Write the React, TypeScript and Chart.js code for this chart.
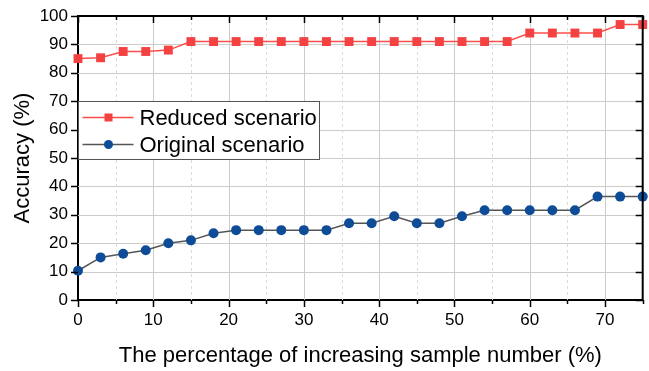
import React, { useEffect, useRef } from 'react';
import { Chart, registerables } from 'chart.js';

Chart.register(...registerables);

const xPercent = [0, 3, 6, 9, 12, 15, 18, 21, 24, 27, 30, 33, 36, 39, 42, 45, 48, 51, 54, 57, 60, 63, 66, 69, 72, 75];
const reducedScenario = [85, 85.3, 87.5, 87.5, 88, 91, 91, 91, 91, 91, 91, 91, 91, 91, 91, 91, 91, 91, 91, 91, 94, 94, 94, 94, 97, 97];
const originalScenario = [10.3, 15, 16.3, 17.5, 20, 21, 23.5, 24.6, 24.6, 24.6, 24.6, 24.6, 27, 27, 29.5, 27, 27, 29.5, 31.6, 31.6, 31.6, 31.6, 31.6, 36.4, 36.4, 36.4];
const seriesNames = ['Reduced scenario', 'Original scenario'];
const xTitle = 'The percentage of increasing sample number (%)';
const yTitle = 'Accuracy (%)';
const xMajorTicks = [0, 10, 20, 30, 40, 50, 60, 70];
const xMinorTicks = [5, 15, 25, 35, 45, 55, 65, 75];
const yMajorTicks = [0, 10, 20, 30, 40, 50, 60, 70, 80, 90, 100];

const FONT = '"Liberation Sans", Arial, sans-serif';
const RED_LINE = '#FF4D4D';
const RED_FILL = '#F44242';
const BLUE_FILL = '#0F4C98';
const GRAY_LINE = '#555555';

function line(ctx: CanvasRenderingContext2D, x1: number, y1: number, x2: number, y2: number) {
  ctx.beginPath();
  ctx.moveTo(x1, y1);
  ctx.lineTo(x2, y2);
  ctx.stroke();
}

function zeroPadding(scale: any) {
  scale.paddingLeft = 0;
  scale.paddingRight = 0;
  scale.paddingTop = 0;
  scale.paddingBottom = 0;
}

const framePlugin = {
  id: 'frameAndLegend',
  beforeDatasetsDraw(chart: any) {
    const { ctx, chartArea: a, scales } = chart;
    const x = scales.x;
    const y = scales.y;
    ctx.save();
    ctx.lineWidth = 1;
    ctx.strokeStyle = '#cccccc';
    yMajorTicks.forEach((v) => {
      if (v === 0 || v === 100) return;
      const py = Math.round(y.getPixelForValue(v)) + 0.5;
      line(ctx, a.left, py, a.right, py);
    });
    xMajorTicks.forEach((v) => {
      if (v === 0) return;
      const px = Math.round(x.getPixelForValue(v)) + 0.5;
      line(ctx, px, a.top, px, a.bottom);
    });
    ctx.setLineDash([3, 3]);
    ctx.strokeStyle = '#dcdcdc';
    xMinorTicks.forEach((v) => {
      if (v >= 75) return;
      const px = Math.round(x.getPixelForValue(v)) + 0.5;
      line(ctx, px, a.top, px, a.bottom);
    });
    ctx.restore();
  },
  afterDatasetsDraw(chart: any) {
    const { ctx, chartArea: a, scales } = chart;
    const x = scales.x;
    const y = scales.y;
    ctx.save();
    ctx.strokeStyle = '#000';
    ctx.lineWidth = 2;
    line(ctx, a.left - 1, a.top, a.right + 1, a.top);
    line(ctx, a.right, a.top, a.right, a.bottom + 1);
    ctx.lineWidth = 1.5;
    yMajorTicks.forEach((v) => {
      const py = Math.round(y.getPixelForValue(v)) + 0.5;
      line(ctx, a.left - 7, py, a.left, py);
      line(ctx, a.right, py, a.right - 7, py);
    });
    xMajorTicks.forEach((v) => {
      const px = Math.round(x.getPixelForValue(v)) + 0.5;
      line(ctx, px, a.bottom, px, a.bottom + 7);
      line(ctx, px, a.top, px, a.top + 7);
    });
    xMinorTicks.forEach((v) => {
      const px = Math.round(x.getPixelForValue(v)) + 0.5;
      line(ctx, px, a.bottom, px, a.bottom + 4);
      line(ctx, px, a.top, px, a.top + 4);
    });
    ctx.restore();

    // legend
    const bx = a.left + 0.5;
    const by = 101.5;
    const bw = 241;
    const bh = 58;
    ctx.save();
    ctx.fillStyle = '#fff';
    ctx.fillRect(bx, by, bw, bh);
    ctx.strokeStyle = '#555';
    ctx.lineWidth = 1;
    ctx.strokeRect(bx, by, bw, bh);
    const rows = [
      { name: seriesNames[0], lineColor: RED_LINE, fill: RED_FILL, style: 'rect', cy: by + 16 },
      { name: seriesNames[1], lineColor: GRAY_LINE, fill: BLUE_FILL, style: 'circle', cy: by + 43 },
    ];
    rows.forEach((r) => {
      ctx.strokeStyle = r.lineColor;
      ctx.lineWidth = 1.5;
      line(ctx, bx + 4, r.cy, bx + 55, r.cy);
      ctx.fillStyle = r.fill;
      const mx = bx + 30;
      if (r.style === 'rect') {
        ctx.fillRect(mx - 4, r.cy - 4, 8, 8);
      } else {
        ctx.beginPath();
        ctx.arc(mx, r.cy, 4.5, 0, Math.PI * 2);
        ctx.fill();
      }
      ctx.fillStyle = '#000';
      ctx.font = `22px ${FONT}`;
      ctx.textBaseline = 'middle';
      ctx.textAlign = 'left';
      ctx.fillText(r.name, bx + 61, r.cy + 1);
    });
    ctx.restore();
  },
};

export default function App() {
  const canvasRef = useRef<HTMLCanvasElement | null>(null);

  useEffect(() => {
    document.body.style.margin = '0';
    const canvas = canvasRef.current;
    if (!canvas) return;
    Chart.defaults.font.family = FONT;
    Chart.defaults.color = '#000';
    const chart = new Chart(canvas, {
      type: 'line',
      data: {
        datasets: [
          {
            label: seriesNames[0],
            data: xPercent.map((v, i) => ({ x: v, y: reducedScenario[i] })),
            borderColor: RED_LINE,
            backgroundColor: RED_FILL,
            borderWidth: 1.5,
            pointStyle: 'rect',
            pointRadius: 6.3,
            pointBorderWidth: 0,
            pointBackgroundColor: RED_FILL,
            clip: false as any,
          },
          {
            label: seriesNames[1],
            data: xPercent.map((v, i) => ({ x: v, y: originalScenario[i] })),
            borderColor: GRAY_LINE,
            backgroundColor: BLUE_FILL,
            borderWidth: 1.5,
            pointStyle: 'circle',
            pointRadius: 5,
            pointBorderWidth: 0,
            pointBackgroundColor: BLUE_FILL,
            clip: false as any,
          },
        ],
      },
      options: {
        responsive: false,
        animation: false,
        layout: { padding: { top: 16, right: 1, left: 0, bottom: 0 } },
        plugins: { legend: { display: false }, tooltip: { enabled: false } },
        scales: {
          x: {
            type: 'linear',
            min: 0,
            max: 75,
            grid: { display: false, drawTicks: false },
            border: { display: true, color: '#000', width: 2 },
            ticks: {
              stepSize: 10,
              autoSkip: false,
              maxRotation: 0,
              padding: 10,
              font: { size: 17, family: FONT },
              color: '#000',
              callback: (v: any) => (xMajorTicks.includes(Number(v)) ? String(v) : ''),
            },
            title: {
              display: true,
              text: xTitle,
              font: { size: 22, family: FONT },
              color: '#000',
              padding: { top: 0, bottom: 2 },
            },
            afterFit: (scale: any) => {
              scale.height = 71;
              zeroPadding(scale);
            },
          },
          y: {
            type: 'linear',
            min: 0,
            max: 100,
            grid: { display: false, drawTicks: false },
            border: { display: true, color: '#000', width: 2 },
            ticks: {
              stepSize: 10,
              autoSkip: false,
              padding: 10,
              font: { size: 17, family: FONT },
              color: '#000',
            },
            title: {
              display: true,
              text: yTitle,
              font: { size: 22, family: FONT },
              color: '#000',
              padding: { top: 10, bottom: 0 },
            },
            afterFit: (scale: any) => {
              scale.width = 78;
              zeroPadding(scale);
            },
          },
        },
      },
      plugins: [framePlugin],
    });
    return () => chart.destroy();
  }, []);

  return (
    <div style={{ position: 'absolute', left: 0, top: 0, width: 649, height: 371, background: '#fff' }}>
      <canvas ref={canvasRef} width={649} height={371} />
    </div>
  );
}
